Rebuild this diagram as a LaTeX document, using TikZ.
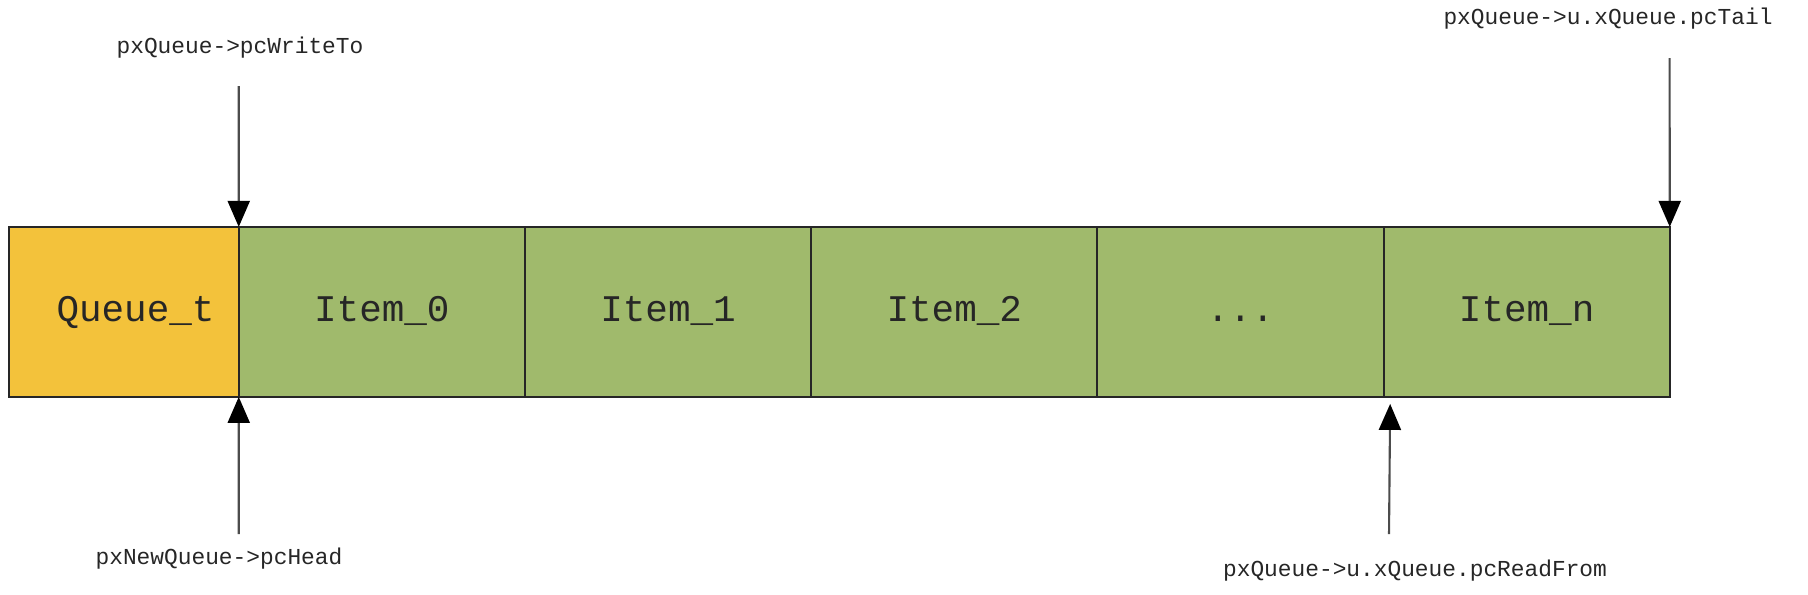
\documentclass[tikz,border=0pt]{standalone}
\usepackage{fontspec}
\setmonofont{Liberation Mono}
\usetikzlibrary{arrows.meta,positioning}
\definecolor{queueorange}{RGB}{243,194,59}
\definecolor{itemgreen}{RGB}{160,186,108}

\begin{document}
\begin{tikzpicture}[
	cell/.style={draw=black!85, line width=0.6pt, minimum height=1.70cm, outer sep=0pt, inner sep=0pt, text height=2.5mm, text depth=0.6mm, font=\ttfamily\fontsize{10.7}{12}\selectfont, text=black!85},
	item/.style={cell, fill=itemgreen, minimum width=2.862cm},
	ptr/.style={draw=black!70, line width=0.6pt, -{Triangle[length=2.6mm, width=2.2mm, black]}},
	lbl/.style={font=\ttfamily\fontsize{6.5}{8}\selectfont, text=black!85, inner sep=0pt}]
	\useasboundingbox (0,0) rectangle (18.08,-5.94);
	% the queue storage
	\node[cell, fill=queueorange, minimum width=2.295cm] (q) at (1.24,-3.119) {\hspace*{0.23cm}Queue\_t};
	\node[item, right=0pt of q] (i0) {Item\_0};
	\node[item, right=0pt of i0] (i1) {Item\_1};
	\node[item, right=0pt of i1] (i2) {Item\_2};
	\node[item, right=0pt of i2] (i3) {...};
	\node[item, right=0pt of i3] (in) {Item\_n};
	% pointers
	\node[lbl] (wto) at (2.40,-0.48) {pxQueue->pcWriteTo};
	\coordinate (wtoend) at (2.387,-0.86);
	\draw[ptr] (wtoend) -- (q.north east);
	\node[lbl] (tail) at (16.08,-0.185) {pxQueue->u.xQueue.pcTail};
	\coordinate (tailend) at (16.696,-0.58);
	\draw[ptr] (tailend) -- (in.north east);
	\node[lbl] (head) at (2.19,-5.59) {pxNewQueue->pcHead};
	\coordinate (headend) at (2.387,-5.34);
	\draw[ptr] (headend) -- (q.south east);
	\node[lbl] (rdf) at (14.15,-5.71) {pxQueue->u.xQueue.pcReadFrom};
	\coordinate (rdfend) at (13.89,-5.34);
	\draw[ptr] (rdfend) -- ([xshift=0.066cm, yshift=-0.07cm]i3.south east);
\end{tikzpicture}
\end{document}
